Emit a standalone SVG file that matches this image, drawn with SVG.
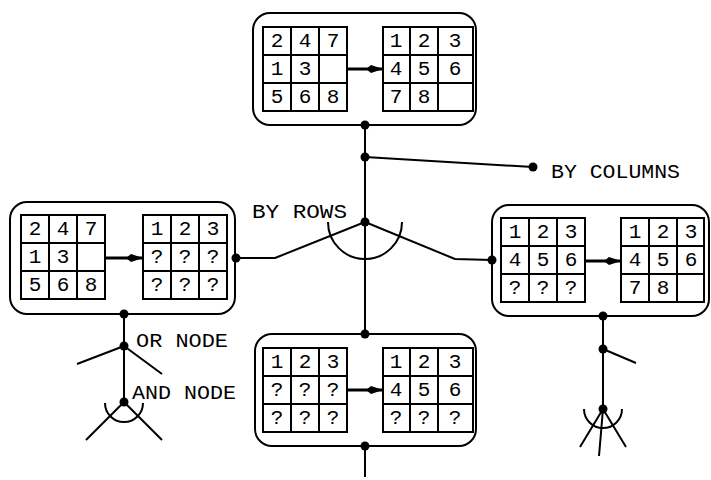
<svg xmlns="http://www.w3.org/2000/svg" width="711" height="480" viewBox="0 0 711 480">
<defs>
<style>
.box{fill:none;stroke:#000;stroke-width:2}
.grid{fill:none;stroke:#000;stroke-width:2}
.arrow{fill:none;stroke:#000;stroke-width:3;marker-end:url(#ah)}
.con{fill:none;stroke:#000;stroke-width:2;stroke-linejoin:round}
.dot{fill:#000}
.num{font-family:"Liberation Mono","DejaVu Sans Mono",monospace;font-size:21px;text-anchor:middle;fill:#000}
.lbl{font-family:"Liberation Mono","DejaVu Sans Mono",monospace;font-size:20px;fill:#000}
</style>
<marker id="ah" markerWidth="18" markerHeight="10" refX="17" refY="5" orient="auto" markerUnits="userSpaceOnUse">
<path d="M0,5 L5,1 L17,5 L5,9 Z" fill="#000"/>
</marker>
</defs>
<rect width="711" height="480" fill="#fff"/>

<g id="node-top">
<rect class="box" x="253" y="13" width="223" height="112" rx="17"/>
<path class="grid" d="M263,27h84v84h-84z M291,27v84 M319,27v84 M263,55h84 M263,83h84"/>
<path class="grid" d="M383,27h90v84h-90z M410,27v84 M438,27v84 M383,55h90 M383,83h90"/>
<path class="arrow" d="M347,69 L383,69"/>
<g class="num">
<text x="277" y="47">2</text><text x="305" y="47">4</text><text x="333" y="47">7</text>
<text x="277" y="75">1</text><text x="305" y="75">3</text>
<text x="277" y="103">5</text><text x="305" y="103">6</text><text x="333" y="103">8</text>
<text x="396" y="47">1</text><text x="424" y="47">2</text><text x="455" y="47">3</text>
<text x="396" y="75">4</text><text x="424" y="75">5</text><text x="455" y="75">6</text>
<text x="396" y="103">7</text><text x="424" y="103">8</text>
</g>
</g>

<g id="node-left">
<rect class="box" x="10" y="202" width="225" height="112" rx="17"/>
<path class="grid" d="M21,215h84v84h-84z M49,215v84 M77,215v84 M21,243h84 M21,271h84"/>
<path class="grid" d="M143,215h84v84h-84z M171,215v84 M199,215v84 M143,243h84 M143,271h84"/>
<path class="arrow" d="M105,258 L143,258"/>
<g class="num">
<text x="35" y="235">2</text><text x="63" y="235">4</text><text x="91" y="235">7</text>
<text x="35" y="263">1</text><text x="63" y="263">3</text>
<text x="35" y="291">5</text><text x="63" y="291">6</text><text x="91" y="291">8</text>
<text x="157" y="235">1</text><text x="185" y="235">2</text><text x="213" y="235">3</text>
<text x="157" y="263">?</text><text x="185" y="263">?</text><text x="213" y="263">?</text>
<text x="157" y="291">?</text><text x="185" y="291">?</text><text x="213" y="291">?</text>
</g>
</g>

<g id="node-right">
<rect class="box" x="492" y="205" width="217" height="111" rx="17"/>
<path class="grid" d="M501,218h84v84h-84z M529,218v84 M557,218v84 M501,246h84 M501,274h84"/>
<path class="grid" d="M621,218h83v84h-83z M649,218v84 M677,218v84 M621,246h83 M621,274h83"/>
<path class="arrow" d="M585,261 L621,261"/>
<g class="num">
<text x="515" y="238">1</text><text x="543" y="238">2</text><text x="571" y="238">3</text>
<text x="515" y="266">4</text><text x="543" y="266">5</text><text x="571" y="266">6</text>
<text x="515" y="294">?</text><text x="543" y="294">?</text><text x="571" y="294">?</text>
<text x="635" y="238">1</text><text x="663" y="238">2</text><text x="691" y="238">3</text>
<text x="635" y="266">4</text><text x="663" y="266">5</text><text x="691" y="266">6</text>
<text x="635" y="294">7</text><text x="663" y="294">8</text>
</g>
</g>

<g id="node-bottom">
<rect class="box" x="255" y="334" width="221" height="112" rx="17"/>
<path class="grid" d="M263,348h84v84h-84z M291,348v84 M319,348v84 M263,376h84 M263,404h84"/>
<path class="grid" d="M383,348h90v84h-90z M410,348v84 M438,348v84 M383,376h90 M383,404h90"/>
<path class="arrow" d="M347,390 L383,390"/>
<g class="num">
<text x="277" y="368">1</text><text x="305" y="368">2</text><text x="333" y="368">3</text>
<text x="277" y="396">?</text><text x="305" y="396">?</text><text x="333" y="396">?</text>
<text x="277" y="424">?</text><text x="305" y="424">?</text><text x="333" y="424">?</text>
<text x="396" y="368">1</text><text x="424" y="368">2</text><text x="455" y="368">3</text>
<text x="396" y="396">4</text><text x="424" y="396">5</text><text x="455" y="396">6</text>
<text x="396" y="424">?</text><text x="424" y="424">?</text><text x="455" y="424">?</text>
</g>
</g>

<g id="connectors">
<path class="con" d="M365,125 V334"/>
<path class="con" d="M365,157 L533,167"/>
<path class="con" d="M236,258 H275 L365,222 L455,259 L492,260"/>
<path class="con" d="M328,222 A37,37 0 0 0 402,222"/>
<path class="con" d="M365,446 V477"/>
<path class="con" d="M124,314 V402 M77,364 L124,346 L162,374 M86,440 L124,402 L162,440"/>
<path class="con" d="M105,403 A19,19 0 0 0 143,403"/>
<path class="con" d="M603,316 V409 M603,349 L636,363 M580,447 L603,409 L626,447 M603,409 L599,456"/>
<path class="con" d="M584,409 A19,19 0 0 0 622,409"/>
<g class="dot">
<circle cx="365" cy="125" r="4.5"/><circle cx="365" cy="157" r="4.5"/><circle cx="533" cy="167" r="4.5"/>
<circle cx="365" cy="222" r="4.5"/><circle cx="236" cy="258" r="4.5"/><circle cx="492" cy="260" r="4.5"/>
<circle cx="365" cy="334" r="4.5"/><circle cx="365" cy="446" r="4.5"/>
<circle cx="124" cy="314" r="4.5"/><circle cx="124" cy="346" r="4.5"/><circle cx="124" cy="402" r="4.5"/>
<circle cx="603" cy="316" r="4.5"/><circle cx="603" cy="349" r="4.5"/><circle cx="603" cy="409" r="4.5"/>
</g>
</g>

<g id="labels" class="lbl">
<text x="551" y="178" textLength="129" lengthAdjust="spacingAndGlyphs">BY COLUMNS</text>
<text x="252" y="218" textLength="95" lengthAdjust="spacingAndGlyphs">BY ROWS</text>
<text x="136" y="347" textLength="92" lengthAdjust="spacingAndGlyphs">OR NODE</text>
<text x="132" y="399" textLength="104" lengthAdjust="spacingAndGlyphs">AND NODE</text>
</g>
</svg>
